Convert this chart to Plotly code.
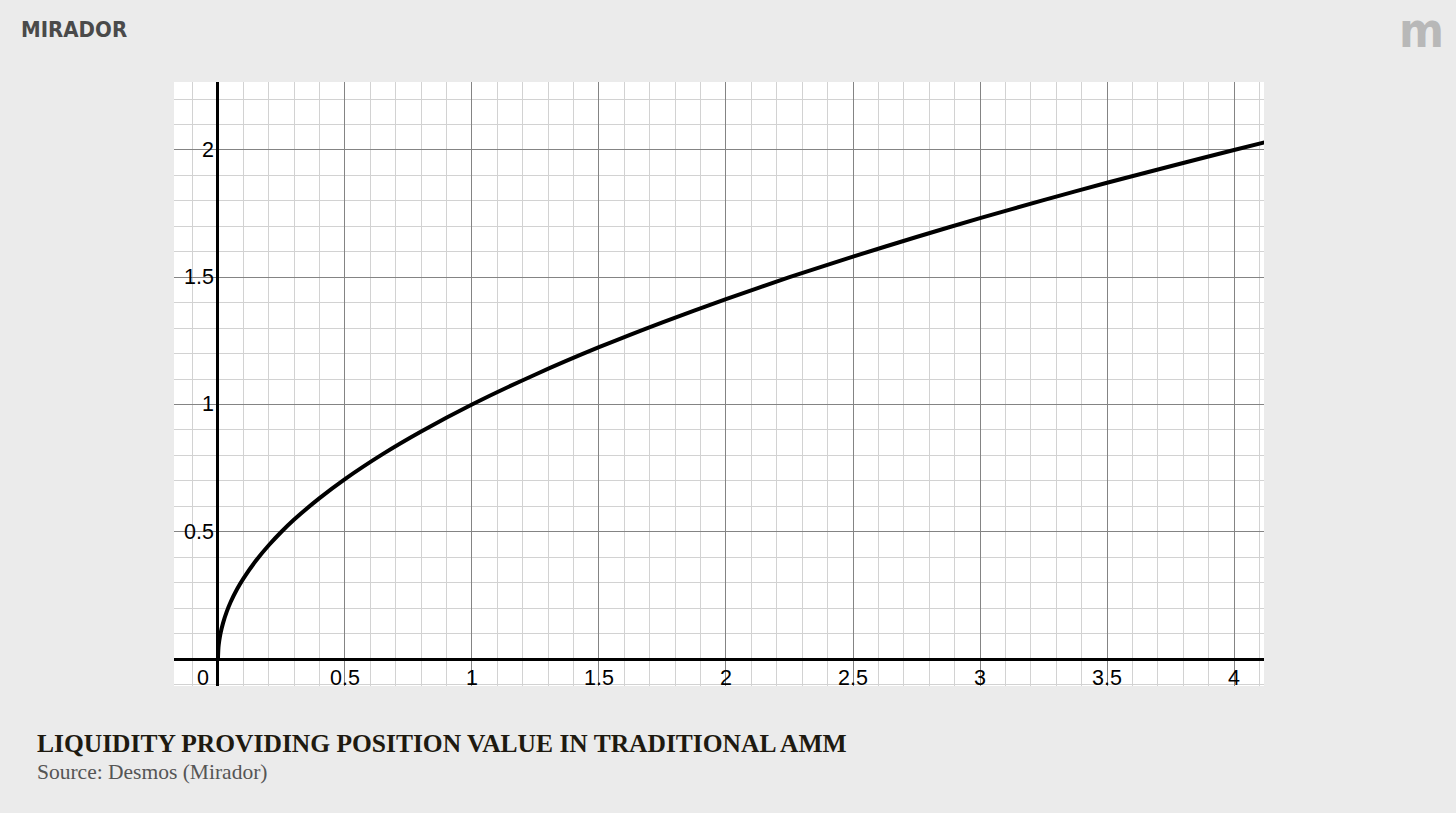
import plotly.graph_objects as go

# Curve points (position value vs price ratio)
curve_x = [0.0, 0.002, 0.005, 0.01, 0.02, 0.035, 0.05, 0.075, 0.1, 0.15, 0.2, 0.25, 0.3, 0.4, 0.5,
           0.65, 0.8, 1.0, 1.25, 1.5, 1.75, 2.0, 2.25, 2.5, 2.75, 3.0, 3.25, 3.5, 3.75, 4.0, 4.12]
curve_y = [0.0, 0.045, 0.071, 0.1, 0.141, 0.187, 0.224, 0.274, 0.316, 0.387, 0.447, 0.5, 0.548, 0.632, 0.707,
           0.806, 0.894, 1.0, 1.118, 1.225, 1.323, 1.414, 1.5, 1.581, 1.658, 1.732, 1.803, 1.871, 1.936, 2.0, 2.03]

x_ticks = [0.5, 1, 1.5, 2, 2.5, 3, 3.5, 4]
x_tick_labels = ["0.5", "1", "1.5", "2", "2.5", "3", "3.5", "4"]
y_ticks = [0.5, 1, 1.5, 2]
y_tick_labels = ["0.5", "1", "1.5", "2"]

title_text = "LIQUIDITY PROVIDING POSITION VALUE IN TRADITIONAL AMM"
source_text = "Source: Desmos (Mirador)"

fig = go.Figure()
fig.add_trace(go.Scatter(
    x=curve_x, y=curve_y, mode="lines",
    line=dict(color="#000000", width=4, shape="spline", smoothing=0.6),
    hoverinfo="skip", showlegend=False,
))

tick_font = dict(family="Liberation Sans, Arial, sans-serif", size=21.5, color="#000000")
annotations = []
for v, t in zip(x_ticks, x_tick_labels):
    annotations.append(dict(x=v, y=0, xref="x", yref="y", text=t, showarrow=False,
                            font=tick_font, xanchor="center", yanchor="middle", yshift=-19))
annotations.append(dict(x=0, y=0, xref="x", yref="y", text="0", showarrow=False,
                        font=tick_font, xanchor="center", yanchor="middle", xshift=-15, yshift=-19))
for v, t in zip(y_ticks, y_tick_labels):
    annotations.append(dict(x=0, y=v, xref="x", yref="y", text=t, showarrow=False,
                            font=tick_font, xanchor="right", yanchor="middle", xshift=-2))

# Branding and captions (pixel positions, converted below)
annotations.append(dict(x=19, y=813 - 29, xref="paper", yref="paper", text="<b>MIRADOR</b>",
                        showarrow=False, xanchor="left", yanchor="middle",
                        font=dict(family="Liberation Sans Narrow, DejaVu Sans Condensed, sans-serif",
                                  size=22, color="#4a4a4a")))
annotations.append(dict(x=1421, y=813 - 30, xref="paper", yref="paper", text="<b>m</b>",
                        showarrow=False, xanchor="center", yanchor="middle",
                        font=dict(family="Liberation Sans Narrow, DejaVu Sans Condensed, sans-serif",
                                  size=48, color="#b8b8b8")))
annotations.append(dict(x=35, y=813 - 743, xref="paper", yref="paper", text="<b>" + title_text + "</b>",
                        showarrow=False, xanchor="left", yanchor="middle",
                        font=dict(family="Liberation Serif, Times New Roman, serif", size=25.5, color="#1e1a10")))
annotations.append(dict(x=35, y=813 - 772, xref="paper", yref="paper", text=source_text,
                        showarrow=False, xanchor="left", yanchor="middle",
                        font=dict(family="Liberation Serif, Times New Roman, serif", size=21.5, color="#555555")))

W, H = 1456, 813
ml, mr, mt, mb = 174, 192, 82, 127
pw, ph = W - ml - mr, H - mt - mb
for a in annotations:
    if a["xref"] == "paper":
        a["x"] = (a["x"] - ml) / pw
        a["y"] = (a["y"] - mb) / ph

fig.update_layout(
    width=W, height=H,
    margin=dict(l=ml, r=mr, t=mt, b=mb, pad=0),
    paper_bgcolor="#ebebeb",
    plot_bgcolor="#ffffff",
    annotations=annotations,
    xaxis=dict(range=[-0.173, 4.118], dtick=0.5, tick0=0, showticklabels=False, ticks="",
               showgrid=True, gridcolor="#848484", gridwidth=1,
               minor=dict(dtick=0.1, tick0=0, showgrid=True, gridcolor="#d2d2d2", gridwidth=1),
               zeroline=True, zerolinecolor="#000000", zerolinewidth=2.5,
               showline=False, fixedrange=True),
    yaxis=dict(range=[-0.106, 2.267], dtick=0.5, tick0=0, showticklabels=False, ticks="",
               showgrid=True, gridcolor="#848484", gridwidth=1,
               minor=dict(dtick=0.1, tick0=0, showgrid=True, gridcolor="#d2d2d2", gridwidth=1),
               zeroline=True, zerolinecolor="#000000", zerolinewidth=2.5,
               showline=False, fixedrange=True),
)

fig.write_html("out.html", config={"displayModeBar": False},
               post_script="document.body.style.margin='0';document.body.style.background='#ebebeb';")
